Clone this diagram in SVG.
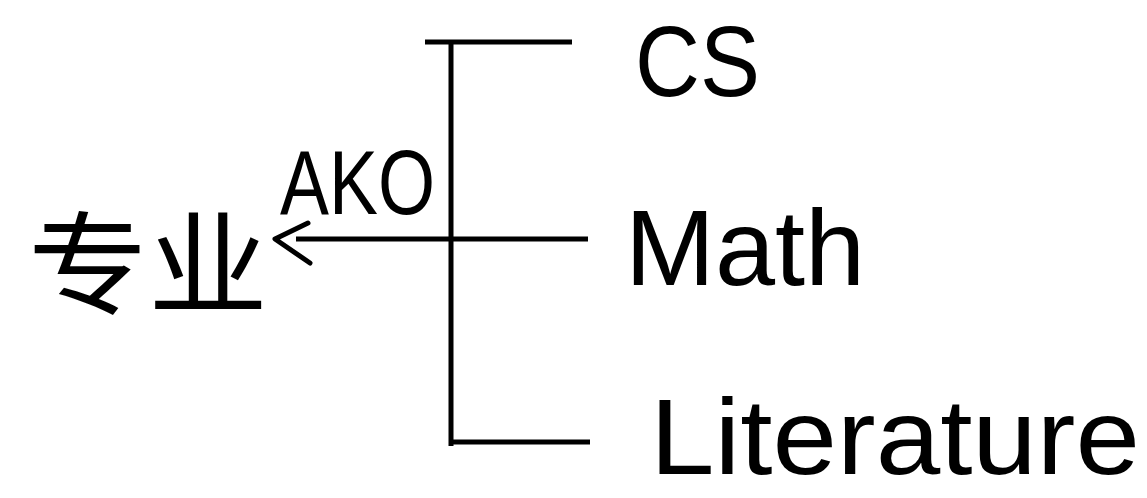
<svg xmlns="http://www.w3.org/2000/svg" width="1147" height="498" viewBox="0 0 1147 498">
<style>
.ln{stroke:#000;stroke-width:5;fill:none;stroke-linecap:butt}
.head{stroke:#000;stroke-width:5;fill:none;stroke-linecap:round;stroke-linejoin:round}
.t{font-family:"Liberation Sans","Noto Sans CJK SC",sans-serif;fill:#000}
</style>
<rect width="1147" height="498" fill="#fff"/>
<g id="connectors">
<line class="ln" x1="451" y1="40" x2="451" y2="446"/>
<line class="ln" x1="425" y1="42" x2="572" y2="42"/>
<line class="ln" x1="451" y1="442" x2="590" y2="442"/>
<line class="ln" x1="588" y1="239" x2="296" y2="239"/>
<polyline class="head" points="308,223 275,239 310,263"/>
<text class="t" x="280" y="214" font-size="90" textLength="155" lengthAdjust="spacingAndGlyphs">AKO</text>
</g>
<g id="major">
<text class="t" x="28" y="306" font-size="112" textLength="240" lengthAdjust="spacingAndGlyphs">专业</text>
</g>
<g id="cs">
<text class="t" x="635" y="96" font-size="100" textLength="125" lengthAdjust="spacingAndGlyphs">CS</text>
</g>
<g id="math">
<text class="t" x="625" y="285" font-size="108" textLength="240" lengthAdjust="spacingAndGlyphs">Math</text>
</g>
<g id="literature">
<text class="t" x="650" y="474" font-size="108" textLength="490" lengthAdjust="spacingAndGlyphs">Literature</text>
</g>
</svg>
